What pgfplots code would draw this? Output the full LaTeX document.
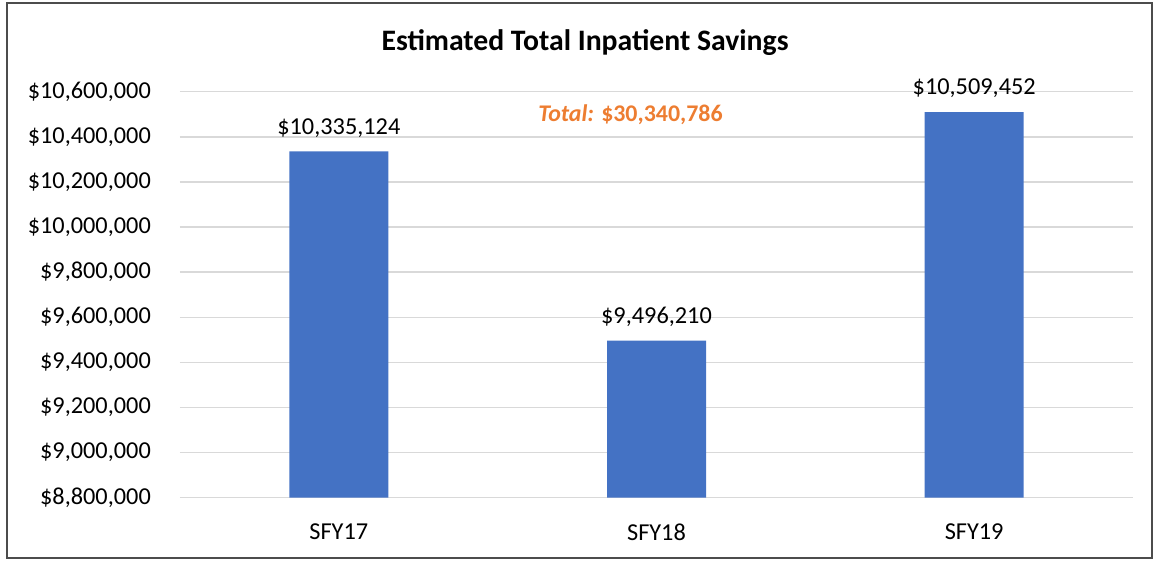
\documentclass[border=0pt]{standalone}
\usepackage{pgfplots}
\pgfplotsset{compat=1.18}
\usepackage{fontspec}
\setmainfont{Carlito}
\definecolor{barblue}{RGB}{68,114,196}
\definecolor{gridgray}{RGB}{217,217,217}
\definecolor{totorange}{RGB}{237,125,49}
\begin{document}
\begin{tikzpicture}[x=1pt,y=1pt]
\useasboundingbox (-180,-62.3) rectangle (975,497.7);
\draw[line width=1.5pt, black!70] (-173,-60.3) rectangle (972,494.7);
\node[anchor=base, font=\fontsize{29.7}{34}\selectfont\bfseries] at (405,446.7) {Estimated Total Inpatient Savings};
\begin{axis}[
  at={(0pt,0pt)}, anchor=south west,
  scale only axis, width=953pt, height=406pt,
  xmin=-0.5, xmax=2.5, ymin=8800000, ymax=10600000,
  scaled y ticks=false,
  xtick={0,1,2}, xticklabels={SFY17,SFY18,SFY19},
  ytick={8800000,9000000,9200000,9400000,9600000,9800000,10000000,10200000,10400000,10600000},
  yticklabels={{\$8,800,000},{\$9,000,000},{\$9,200,000},{\$9,400,000},{\$9,600,000},{\$9,800,000},{\$10,000,000},{\$10,200,000},{\$10,400,000},{\$10,600,000}},
  axis line style={draw=none}, major tick style={draw=none},
  ymajorgrids, grid style={gridgray, line width=1.5pt},
  ticklabel style={font=\fontsize{24.3}{28}\selectfont, inner sep=0pt},
  yticklabel style={xshift=-29pt},
  xticklabel style={yshift=-22pt},
  clip=false,
  ybar, bar width=99pt,
  point meta=explicit symbolic,
  nodes near coords,
  every node near coord/.append style={font=\fontsize{24.3}{28}\selectfont, inner sep=0pt, anchor=south, yshift=14pt, text=black},
]
\addplot[fill=barblue, draw=none] table[meta=lab] {
x y lab
0 10335124 {\$10,335,124}
1 9496210 {\$9,496,210}
2 10509452 {\$10,509,452}
};
\node[anchor=base, font=\fontsize{23.9}{28}\selectfont\bfseries, text=totorange] at (axis cs:0.918,10470000) {\textit{Total:} \$30,340,786};
\end{axis}
\end{tikzpicture}
\end{document}
